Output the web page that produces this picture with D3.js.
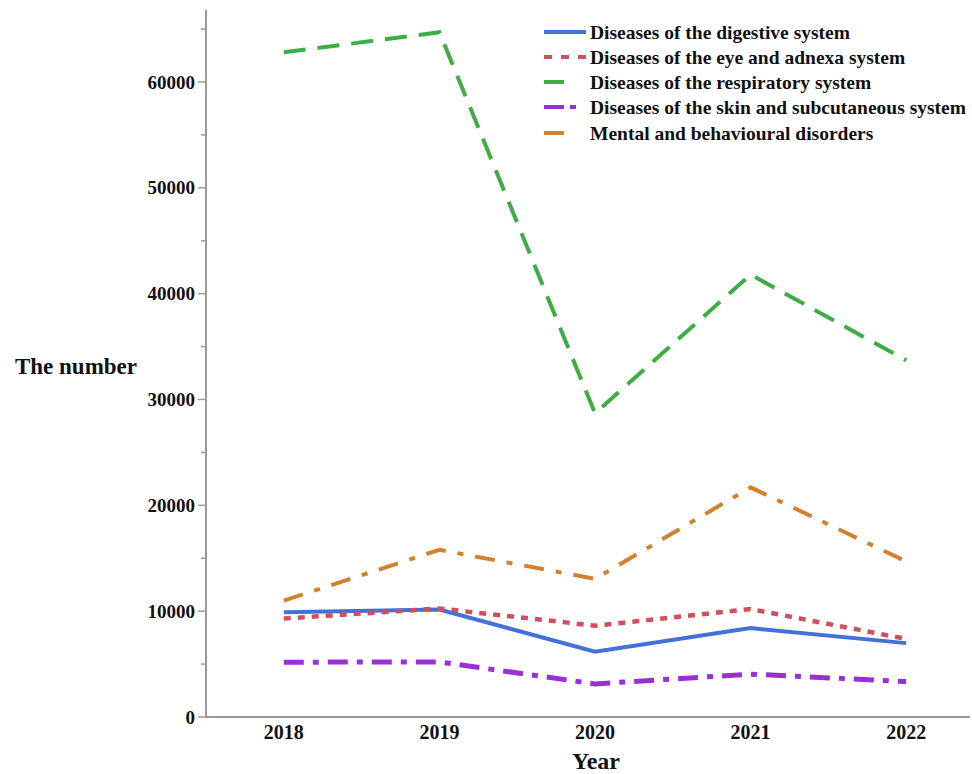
<!DOCTYPE html>
<html><head><meta charset="utf-8">
<script src="https://cdn.jsdelivr.net/npm/d3@7"></script>
<style>body{margin:0;background:#fff}svg{display:block}text{font-family:"Liberation Serif","Times New Roman",serif;font-weight:bold;fill:#111}</style>
</head><body><svg id="c" width="972" height="774"></svg>
<script>
const years = [2018, 2019, 2020, 2021, 2022];
const seriesNames = [
  "Diseases of the digestive system",
  "Diseases of the eye and adnexa system",
  "Diseases of the respiratory system",
  "Diseases of the skin and subcutaneous system",
  "Mental and behavioural disorders"
];
const digestive = [9900, 10150, 6170, 8400, 6980];
const eye = [9300, 10250, 8630, 10200, 7380];
const respiratory = [62800, 64700, 28700, 41800, 33700];
const skin = [5180, 5200, 3130, 4050, 3350];
const mental = [11000, 15800, 13050, 21700, 14700];
const yTicks = [0, 10000, 20000, 30000, 40000, 50000, 60000];
const yMinorTicks = [5000, 15000, 25000, 35000, 45000, 55000, 65000];

(function () {
const allValues = [digestive, eye, respiratory, skin, mental];
const colors = ["#4272d8", "#d04f5c", "#3fad45", "#9a2fd6", "#d0822f"];
const dashes = [null, "7,7", "22,12", "20,9,6,9", "20,12,6,12"];
const widths = [4, 4.5, 4, 5, 4];

const svg = d3.select("#c");
const mLeft = 206, mRight = 970, mTop = 10, mBottom = 717;
const x = d3.scaleLinear().domain([2017.5, 2022.41]).range([mLeft, mRight]);
const y = d3.scaleLinear().domain([0, 66800]).range([mBottom, mTop]);

const axisColor = "#9a9a9a";
svg.append("line").attr("x1", mLeft).attr("x2", mLeft).attr("y1", mTop).attr("y2", mBottom)
  .attr("stroke", axisColor).attr("stroke-width", 2);
svg.append("line").attr("x1", mLeft - 1).attr("x2", mRight).attr("y1", mBottom).attr("y2", mBottom)
  .attr("stroke", axisColor).attr("stroke-width", 2);

yTicks.forEach(t => {
  svg.append("line").attr("x1", mLeft - 8).attr("x2", mLeft).attr("y1", y(t)).attr("y2", y(t))
    .attr("stroke", axisColor).attr("stroke-width", 1.5);
  svg.append("text").attr("x", mLeft - 11).attr("y", y(t)).attr("dy", "0.35em")
    .attr("text-anchor", "end").attr("font-size", 19).text(t);
});
yMinorTicks.forEach(t => {
  svg.append("line").attr("x1", mLeft - 5).attr("x2", mLeft).attr("y1", y(t)).attr("y2", y(t))
    .attr("stroke", axisColor).attr("stroke-width", 1.5);
});
years.forEach(yr => {
  svg.append("text").attr("x", x(yr)).attr("y", 739).attr("text-anchor", "middle")
    .attr("font-size", 20).text(yr);
});
svg.append("text").attr("x", 596).attr("y", 769).attr("text-anchor", "middle")
  .attr("font-size", 24).text("Year");
svg.append("text").attr("x", 76).attr("y", 374).attr("text-anchor", "middle")
  .attr("font-size", 23).text("The number");

const line = d3.line().x((d, i) => x(years[i])).y(d => y(d));
allValues.forEach((vals, i) => {
  const p = svg.append("path").datum(vals).attr("d", line).attr("fill", "none")
    .attr("stroke", colors[i]).attr("stroke-width", widths[i]).attr("stroke-linejoin", "miter");
  if (dashes[i]) p.attr("stroke-dasharray", dashes[i]);
});

const legRows = [32, 57, 82, 107, 133];
const legDash = [null, "8,9", "20,40", "20,6,6,40", "20,40"];
seriesNames.forEach((n, i) => {
  const ly = legRows[i];
  const l = svg.append("line").attr("x1", 544).attr("x2", 586).attr("y1", ly).attr("y2", ly)
    .attr("stroke", colors[i]).attr("stroke-width", 4);
  if (legDash[i]) l.attr("stroke-dasharray", legDash[i]);
  svg.append("text").attr("x", 590).attr("y", ly).attr("dy", "0.35em").attr("font-size", 19.5).text(n);
});
})();
</script></body></html>
